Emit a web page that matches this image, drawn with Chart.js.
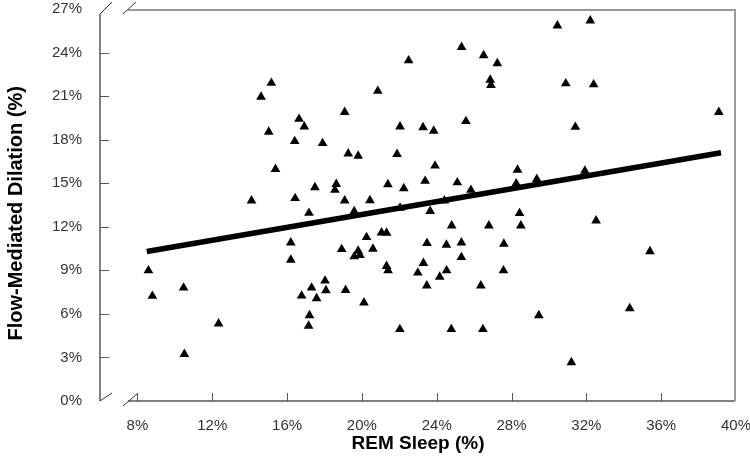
<!DOCTYPE html>
<html>
<head>
<meta charset="utf-8">
<script src="https://cdn.jsdelivr.net/npm/chart.js@4/dist/chart.umd.min.js"></script>
<style>
  html, body { margin: 0; padding: 0; background: #fff; }
</style>
</head>
<body>
<canvas id="myChart" width="750" height="474"></canvas>
<script>
// REM sleep (%) and flow-mediated dilation (%)
const remSleep = [
  22.5, 15.16, 14.61, 20.85, 19.08, 16.64, 16.92, 15.02, 22.04, 23.27,
  16.41, 17.9, 19.27, 19.8, 21.88, 15.38, 17.49, 18.63, 18.56, 21.39,
  22.24, 23.38, 14.1, 16.43, 19.08, 20.43, 30.45, 32.21, 25.33, 26.51,
  27.24, 26.86, 26.9, 30.9, 32.39, 39.08, 25.56, 31.41, 23.84, 23.91,
  28.32, 25.1, 28.25, 29.35, 31.92, 25.83, 24.41, 17.17, 19.59, 22.04,
  23.65, 8.59, 8.8, 10.47, 10.51, 12.34, 16.2, 16.2, 18.92, 19.8,
  19.59, 19.9, 20.25, 20.59, 21.05, 21.32, 21.32, 21.4, 23.48, 23.29,
  22.99, 23.47, 16.78, 17.31, 17.58, 18.03, 18.08, 19.13, 20.11, 17.2,
  17.15, 22.03, 28.43, 28.5, 24.8, 26.79, 32.52, 24.52, 25.32, 27.59,
  25.32, 35.4, 24.53, 24.16, 26.36, 27.57, 29.46, 34.32, 24.78, 26.47,
  31.2
];
const fmd = [
  23.45, 21.9, 20.95, 21.35, 19.9, 19.42, 18.9, 18.53, 18.9, 18.85,
  17.89, 17.75, 17.04, 16.88, 17.0, 15.97, 14.71, 14.94, 14.53, 14.92,
  14.64, 15.15, 13.8, 13.96, 13.8, 13.82, 25.85, 26.2, 24.37, 23.8,
  23.25, 22.12, 21.76, 21.87, 21.8, 19.9, 19.27, 18.87, 18.6, 16.2,
  15.92, 15.05, 14.98, 15.28, 15.85, 14.53, 13.8, 12.95, 13.06, 13.3,
  13.08, 8.99, 7.23, 7.8, 3.23, 5.33, 10.91, 9.72, 10.45, 10.34,
  9.95, 10.05, 11.28, 10.48, 11.6, 11.58, 9.29, 8.99, 10.87, 9.49,
  8.83, 7.94, 7.25, 7.8, 7.07, 8.28, 7.62, 7.64, 6.77, 5.9,
  5.17, 4.94, 12.93, 12.08, 12.08, 12.08, 12.42, 10.75, 10.91, 10.82,
  9.9, 10.3, 8.99, 8.55, 7.94, 8.99, 5.9, 6.38, 4.94, 4.94,
  2.66
];

// fitted line end points
const trendX = [8.5, 39.2];
const trendY = [10.3, 17.1];

const xTicks = [8, 12, 16, 20, 24, 28, 32, 36, 40];
const yTicks = [0, 3, 6, 9, 12, 15, 18, 21, 24, 27];

const points = remSleep.map((x, i) => ({ x: x, y: fmd[i] }));
const trend = trendX.map((x, i) => ({ x: x, y: trendY[i] }));

// left/bottom axes with inner ticks, the frame and the break marks
const axisDecor = {
  id: 'axisDecor',
  afterDatasetsDraw(chart) {
    const c = chart.ctx;
    const a = chart.chartArea;
    const xs = chart.scales.x, ys = chart.scales.y;
    const L = a.left, R = a.right, T = a.top, B = a.bottom;
    c.save();
    c.lineCap = 'butt';
    c.strokeStyle = '#808080';
    c.lineWidth = 2;
    c.beginPath();
    c.moveTo(L, T + 5);
    c.lineTo(L, B);
    c.stroke();
    c.beginPath();
    c.moveTo(L + 28, B);
    c.lineTo(R - 1, B);
    c.stroke();
    c.strokeStyle = '#999';
    c.beginPath();
    c.moveTo(L + 28, T + 1);
    c.lineTo(R - 1, T + 1);
    c.stroke();
    c.beginPath();
    c.moveTo(R - 1, T);
    c.lineTo(R - 1, B);
    c.stroke();

    c.strokeStyle = '#555';
    c.lineWidth = 1;
    c.beginPath();
    yTicks.forEach(v => {
      if (v === 0 || v === 27) return;
      const py = Math.round(ys.getPixelForValue(v)) + 0.5;
      c.moveTo(L, py); c.lineTo(L + 9, py);
    });
    xTicks.forEach(v => {
      if (v === 40) return;
      const px = Math.round(xs.getPixelForValue(v)) + 0.5;
      c.moveTo(px, B); c.lineTo(px, B - 8);
    });
    c.stroke();

    c.strokeStyle = '#333';
    c.beginPath();
    c.moveTo(L, B); c.lineTo(L + 12, B - 8);
    c.moveTo(L + 23, B + 5); c.lineTo(L + 37, B - 7);
    c.moveTo(L, T + 5); c.lineTo(L + 12, T - 7);
    c.moveTo(L + 23, T + 5); c.lineTo(L + 36, T - 7);
    c.stroke();
    c.restore();
  }
};

const ctx = document.getElementById('myChart');

new Chart(ctx, {
  data: {
    datasets: [{
      type: 'line',
      data: trend,
      borderColor: '#000',
      borderWidth: 5.5,
      pointRadius: 0,
      fill: false
    }, {
      type: 'scatter',
      data: points,
      pointStyle: 'triangle',
      pointRadius: 5.6,
      backgroundColor: '#000',
      borderColor: '#000',
      borderWidth: 0
    }]
  },
  options: {
    responsive: false,
    animation: false,
    devicePixelRatio: 1,
    layout: { autoPadding: false, padding: { top: 9, right: 14, left: 0, bottom: 0 } },
    plugins: {
      legend: { display: false },
      tooltip: { enabled: false }
    },
    scales: {
      x: {
        type: 'linear',
        min: 6,
        max: 40,
        afterBuildTicks: s => { s.ticks = xTicks.map(v => ({ value: v })); },
        afterFit: s => { s.height = 73; s.paddingLeft = 0; s.paddingRight = 0; },
        grid: { display: false, drawTicks: false },
        border: { display: false },
        ticks: {
          autoSkip: false,
          maxRotation: 0,
          padding: 16,
          color: '#333',
          font: { family: 'Liberation Sans', size: 15 },
          callback: v => v + '%'
        },
        title: {
          display: true,
          text: 'REM Sleep (%)',
          color: '#000',
          font: { family: 'Liberation Sans', size: 19, weight: 'bold' },
          padding: { top: 0, bottom: 19 }
        }
      },
      y: {
        type: 'linear',
        min: 0,
        max: 27,
        afterBuildTicks: s => { s.ticks = yTicks.map(v => ({ value: v })); },
        afterFit: s => { s.width = 100; s.paddingTop = 0; s.paddingBottom = 0; },
        grid: { display: false, drawTicks: false },
        border: { display: false },
        ticks: {
          autoSkip: false,
          padding: 18,
          color: '#333',
          font: { family: 'Liberation Sans', size: 15 },
          callback: v => v + '%'
        },
        title: {
          display: true,
          text: 'Flow-Mediated Dilation (%)   ',
          color: '#000',
          font: { family: 'Liberation Sans', size: 20, weight: 'bold' },
          padding: { top: 4, bottom: 0 }
        }
      }
    }
  },
  plugins: [axisDecor]
});
</script>
</body>
</html>
